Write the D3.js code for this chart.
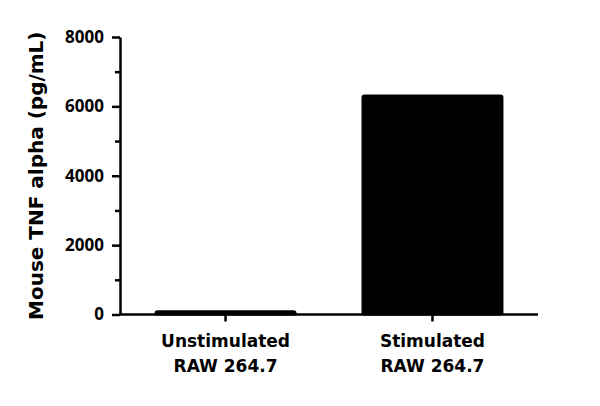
<!DOCTYPE html>
<html>
<head>
<meta charset="utf-8">
<script src="https://cdn.jsdelivr.net/npm/d3@7"></script>
<style>
  body { margin: 0; background: #fff; }
  text { font-weight: 700; fill: #000; }
  .num { font-family: "Open Sans", sans-serif; }
  .lbl { font-family: "DejaVu Sans", sans-serif; }
</style>
</head>
<body>
<div id="chart"></div>
<script>
'use strict';

const categories = [['Unstimulated', 'RAW 264.7'], ['Stimulated', 'RAW 264.7']];
const values = [120, 6340];
const majorTicks = [0, 2000, 4000, 6000, 8000];
const minorTicks = [1000, 3000, 5000, 7000];
const yTitle = 'Mouse TNF alpha (pg/mL)';

const W = 600, H = 406;
const svg = d3.select('#chart').append('svg')
    .attr('width', W)
    .attr('height', H);

const keys = categories.map(c => c.join(' '));
const x = d3.scaleBand().domain(keys).range([120, 538]).paddingInner(0.314).paddingOuter(0.167);
const y = d3.scaleLinear().domain([0, 8000]).range([314.5, 37]);

// bars
svg.selectAll('.bar')
    .data(values)
  .enter().append('rect')
    .attr('class', 'bar')
    .attr('x', (d, i) => x(keys[i]))
    .attr('width', x.bandwidth())
    .attr('y', d => y(d))
    .attr('height', d => y(0) - y(d) + 1)
    .attr('rx', 3)
    .style('fill', '#000');

// y axis with minor ticks
const yAxis = svg.append('g')
    .attr('transform', 'translate(120,0)')
    .call(d3.axisLeft(y).tickValues(majorTicks).tickFormat(d3.format('d'))
      .tickSize(8).tickPadding(8).tickSizeOuter(0));
yAxis.selectAll('.tick text')
    .attr('class', 'num')
    .style('font-size', '17px');

svg.append('g')
    .attr('transform', 'translate(120,0)')
    .call(d3.axisLeft(y).tickValues(minorTicks).tickSize(5).tickFormat('').tickSizeOuter(0))
    .select('.domain').remove();

// x axis
const xAxis = svg.append('g')
    .attr('transform', `translate(0,${y(0)})`)
    .call(d3.axisBottom(x).tickSize(7).tickSizeOuter(0).tickFormat(''));
xAxis.select('.domain').attr('d', 'M119,0H538');

xAxis.selectAll('.tick').each(function(d, i) {
  const t = d3.select(this).append('text')
      .attr('class', 'lbl')
      .attr('text-anchor', 'middle')
      .style('font-size', '17px');
  categories[i].forEach((line, j) => {
    t.append('tspan').attr('x', 0).attr('y', 32 + j * 25).text(line);
  });
});

svg.selectAll('.domain, .tick line')
    .style('stroke', '#000')
    .style('stroke-width', 2.5);

// y title
svg.append('text')
    .attr('class', 'lbl')
    .attr('transform', `translate(43,${(y(0) + y(8000)) / 2}) rotate(-90)`)
    .attr('text-anchor', 'middle')
    .style('font-size', '20px')
    .text(yTitle);
</script>
</body>
</html>
